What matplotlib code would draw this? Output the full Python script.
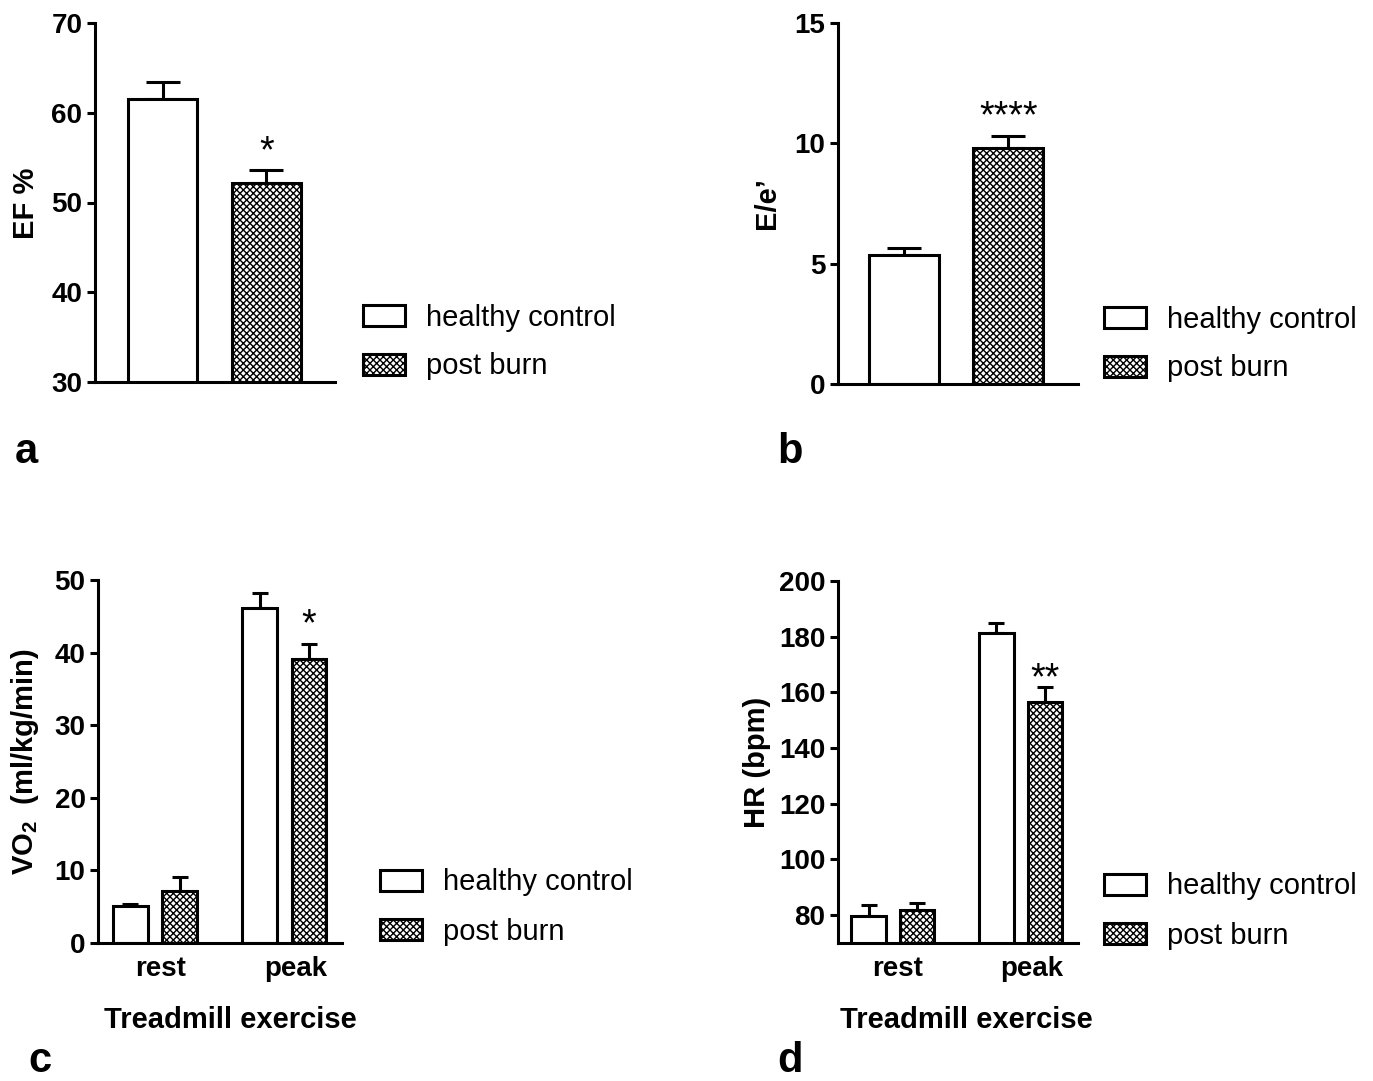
import matplotlib.pyplot as plt
from matplotlib.patches import Patch

plt.rcParams['font.family'] = ['Liberation Sans', 'DejaVu Sans']
plt.rcParams['hatch.linewidth'] = 1.0
plt.rcParams['mathtext.fontset'] = 'custom'
plt.rcParams['mathtext.rm'] = 'Liberation Sans:bold'
plt.rcParams['mathtext.bf'] = 'Liberation Sans:bold'

# Data (mean, SEM)
groups = ['healthy control', 'post burn']
ef_mean = [61.5, 52.2]
ef_sem = [1.9, 1.4]
ee_mean = [5.36, 9.82]
ee_sem = [0.28, 0.48]

stages = ['rest', 'peak']
vo2_healthy = [5.1, 46.1]
vo2_healthy_sem = [0.3, 2.1]
vo2_burn = [7.1, 39.1]
vo2_burn_sem = [2.0, 2.1]
hr_healthy = [79.7, 181.3]
hr_healthy_sem = [3.8, 3.5]
hr_burn = [81.7, 156.7]
hr_burn_sem = [2.8, 5.3]

W, H = 1373, 1081
LW = 2.2
HATCH = 'xxxxx'
fig = plt.figure(figsize=(W / 100, H / 100), dpi=100)


def px_axes(left, top, right, bottom):
    return fig.add_axes([left / W, 1 - bottom / H, (right - left) / W, (bottom - top) / H])


def style(ax):
    for s in ['top', 'right']:
        ax.spines[s].set_visible(False)
    for s in ['left', 'bottom']:
        ax.spines[s].set_linewidth(LW)
    ax.tick_params(axis='y', length=6, width=LW, labelsize=20, pad=3)
    ax.tick_params(axis='x', length=0, labelsize=20, pad=9)
    for lab in ax.get_yticklabels() + ax.get_xticklabels():
        lab.set_fontweight('bold')


def bars(ax, x, mean, sem, width, hatch, capsize):
    ax.bar(x, mean, width, color='white', edgecolor='black', linewidth=LW,
           hatch=hatch, zorder=2)
    ax.errorbar(x, mean, yerr=[[0] * len(mean), sem], fmt='none', ecolor='black',
                elinewidth=LW, capsize=capsize, capthick=LW, zorder=1)


def star(ax, x, y, text, off):
    ax.annotate(text, (x, y), xytext=(0, off), textcoords='offset points',
                ha='center', va='baseline', fontsize=27)


def legend(x, y):
    handles = [Patch(facecolor='white', edgecolor='black', linewidth=LW, label=groups[0]),
               Patch(facecolor='white', edgecolor='black', linewidth=LW, hatch=HATCH,
                     label=groups[1])]
    fig.legend(handles=handles, loc='center left', bbox_to_anchor=(x / W, 1 - y / H),
               frameon=False, fontsize=21, handlelength=1.45, handleheight=0.7,
               handletextpad=0.7, labelspacing=0.72, borderpad=0, borderaxespad=0)


# a: EF
ax = px_axes(95, 23, 335, 382)
bars(ax, [0], [ef_mean[0]], [ef_sem[0]], 0.67, None, 12)
bars(ax, [1], [ef_mean[1]], [ef_sem[1]], 0.67, HATCH, 12)
ax.set_xlim(-0.65, 1.66)
ax.set_ylim(30, 70)
ax.set_yticks([30, 40, 50, 60, 70])
ax.set_xticks([])
style(ax)
star(ax, 1, ef_mean[1] + ef_sem[1], '*', 6)
fig.text(26 / W, 1 - 203 / H, 'EF %', rotation=90, ha='center', va='center',
         fontsize=21, fontweight='bold')
legend(363, 342)
fig.text(15 / W, 1 - 463 / H, 'a', fontsize=30, fontweight='bold')

# b: E/e'
ax = px_axes(838, 23, 1078, 384)
bars(ax, [0], [ee_mean[0]], [ee_sem[0]], 0.67, None, 12)
bars(ax, [1], [ee_mean[1]], [ee_sem[1]], 0.67, HATCH, 12)
ax.set_xlim(-0.635, 1.67)
ax.set_ylim(0, 15)
ax.set_yticks([0, 5, 10, 15])
ax.set_xticks([])
style(ax)
star(ax, 1, ee_mean[1] + ee_sem[1], '****', 6)
fig.text(767 / W, 1 - 203 / H, 'E/e\u2019', rotation=90, ha='center', va='center',
         fontsize=21, fontweight='bold')
legend(1104, 344)
fig.text(777 / W, 1 - 463 / H, 'b', fontsize=30, fontweight='bold')

# c: VO2
ax = px_axes(98, 580, 342, 943)
xs = [0, 1]
off = 0.19
bars(ax, [v - off for v in xs], vo2_healthy, vo2_healthy_sem, 0.27, None, 5.8)
bars(ax, [v + off for v in xs], vo2_burn, vo2_burn_sem, 0.27, HATCH, 5.8)
ax.set_xlim(-0.44, 1.445)
ax.set_ylim(0, 50)
ax.set_yticks([0, 10, 20, 30, 40, 50])
ax.set_xticks([0.04, 1.085])
ax.set_xticklabels(stages)
style(ax)
star(ax, 1 + off, vo2_burn[1] + vo2_burn_sem[1], '*', 6)
ax.set_xlabel('Treadmill exercise', fontsize=21, fontweight='bold', labelpad=18)
ax.xaxis.label.set_x(0.541)
fig.text(25 / W, 1 - 762 / H, r'VO$_{\mathbf{2}}$  (ml/kg/min)', rotation=90,
         ha='center', va='center', fontsize=21, fontweight='bold')
legend(380, 907)
fig.text(28 / W, 1 - 1072 / H, 'c', fontsize=30, fontweight='bold')

# d: HR
ax = px_axes(838, 581, 1078, 943)
bars(ax, [v - off for v in xs], hr_healthy, hr_healthy_sem, 0.27, None, 5.8)
bars(ax, [v + off for v in xs], hr_burn, hr_burn_sem, 0.27, HATCH, 5.8)
ax.set_xlim(-0.43, 1.45)
ax.set_ylim(70, 200)
ax.set_yticks([80, 100, 120, 140, 160, 180, 200])
ax.set_xticks([0.04, 1.085])
ax.set_xticklabels(stages)
style(ax)
star(ax, 1 + off, hr_burn[1] + hr_burn_sem[1], '**', -1.5)
ax.set_xlabel('Treadmill exercise', fontsize=21, fontweight='bold', labelpad=18)
ax.xaxis.label.set_x(0.533)
fig.text(757 / W, 1 - 762 / H, 'HR (bpm)', rotation=90, ha='center', va='center',
         fontsize=21, fontweight='bold')
legend(1104, 911)
fig.text(777 / W, 1 - 1072 / H, 'd', fontsize=30, fontweight='bold')

fig.savefig('out.png', dpi=100)
